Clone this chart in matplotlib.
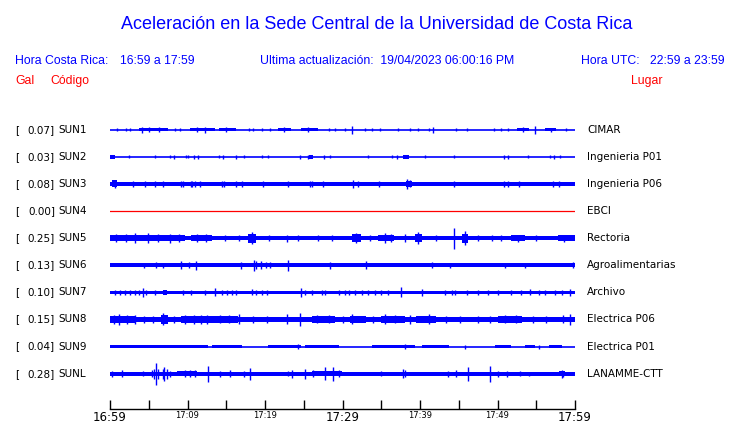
import matplotlib
matplotlib.use('Agg')
import matplotlib.pyplot as plt

# Estaciones, picos (gal) y lugares
stations = ['SUN1', 'SUN2', 'SUN3', 'SUN4', 'SUN5', 'SUN6', 'SUN7', 'SUN8', 'SUN9', 'SUNL']
peaks = [0.07, 0.03, 0.08, 0.00, 0.25, 0.13, 0.10, 0.15, 0.04, 0.28]
places = ['CIMAR', 'Ingenieria P01', 'Ingenieria P06', 'EBCI', 'Rectoria',
          'Agroalimentarias', 'Archivo', 'Electrica P06', 'Electrica P01', 'LANAMME-CTT']

# nivel de ruido base de cada traza (unidades arbitrarias)
noise_floor = [0.6, 0.6, 2.0, 0.0, 2.3, 2.0, 1.5, 2.5, 0.7, 2.0]

# tramos de ruido elevado: (minuto inicio, minuto fin, amplitud)
bands = {
    'SUN1': [(3.7, 7.5, 1.7), (10.3, 13.5, 1.7), (14.0, 16.3, 1.6), (21.7, 23.4, 1.6),
             (24.7, 26.9, 1.6), (52.5, 54.0, 1.6), (56.1, 57.6, 1.5)],
    'SUN2': [(0.0, 0.7, 2.0), (25.7, 26.2, 2.2), (37.8, 38.6, 2.2)],
    'SUN3': [(0.2, 0.9, 3.5), (38.2, 39.0, 3.0)],
    'SUN4': [],
    'SUN5': [(0.0, 9.7, 3.2), (10.5, 13.1, 3.0), (17.8, 18.8, 4.5), (31.2, 32.4, 3.8),
             (34.6, 36.6, 3.3), (39.3, 40.3, 4.3), (45.4, 46.2, 4.5), (51.8, 53.6, 2.8),
             (57.8, 60.0, 2.8)],
    'SUN6': [],
    'SUN7': [(6.8, 7.4, 2.3)],
    'SUN8': [(0.0, 3.2, 3.8), (6.6, 7.5, 4.8), (9.2, 13.1, 3.6), (13.1, 16.5, 3.1),
             (26.0, 29.0, 3.1), (31.0, 33.0, 3.1), (35.0, 38.0, 3.1), (39.5, 42.0, 3.1),
             (50.0, 53.2, 3.1), (57.5, 60.0, 2.9)],
    'SUN9': [(0.0, 12.7, 1.3), (13.1, 17.0, 1.3), (20.4, 24.7, 1.3), (25.2, 29.5, 1.3),
             (33.8, 39.4, 1.3), (40.2, 43.7, 1.3), (49.7, 51.8, 1.3), (53.5, 54.8, 1.3),
             (56.6, 58.3, 1.3)],
    'SUNL': [(8.6, 11.2, 2.7), (26.0, 29.9, 2.7), (57.9, 58.7, 2.8)],
}

# picos individuales: (minuto, amplitud)
spikes = {
    'SUN1': [(0.9, 1.8), (2.0, 1.8), (2.6, 1.8), (4.1, 3.0), (5.0, 2.2), (6.3, 2.2),
             (8.4, 1.8), (9.0, 1.8), (11.2, 2.2), (12.3, 3.0), (15.0, 2.2), (17.9, 1.6),
             (18.5, 1.6), (19.6, 1.8), (20.6, 1.6), (22.5, 2.2), (25.5, 2.2), (28.2, 1.8),
             (29.0, 1.6), (30.3, 1.8), (31.2, 4.0), (32.9, 1.8), (33.8, 1.8), (34.8, 1.6),
             (37.2, 1.6), (38.7, 1.8), (39.8, 1.6), (41.1, 1.8), (41.7, 3.0), (44.7, 1.8),
             (46.0, 1.6), (49.5, 1.6), (50.5, 1.6), (51.4, 1.8), (53.3, 2.2), (54.8, 4.0),
             (56.9, 2.0), (58.9, 1.6)],
    'SUN2': [(2.4, 1.6), (5.8, 1.6), (7.7, 1.6), (8.3, 1.8), (9.8, 1.6), (10.0, 1.6),
             (10.9, 2.0), (11.4, 1.8), (14.0, 1.6), (14.6, 1.8), (16.3, 2.0), (17.3, 1.6),
             (19.6, 1.6), (20.4, 1.6), (24.5, 1.8), (25.6, 1.8), (27.6, 2.0), (28.4, 1.6),
             (33.3, 1.6), (36.4, 1.6), (37.0, 1.8), (40.6, 1.6), (44.4, 1.6), (50.9, 2.0),
             (51.3, 2.0), (53.9, 1.6), (56.8, 1.6), (57.3, 2.0), (58.1, 1.6)],
    'SUN3': [(0.6, 4.0), (3.0, 3.0), (4.5, 3.0), (5.8, 3.2), (6.8, 3.0), (9.2, 3.0),
             (9.4, 3.0), (10.4, 3.2), (10.6, 3.2), (11.0, 3.0), (11.6, 3.0), (14.5, 3.2),
             (14.7, 3.2), (16.3, 3.0), (17.0, 3.0), (19.7, 3.0), (23.0, 2.8), (25.8, 3.2),
             (26.1, 3.2), (27.5, 3.0), (31.3, 3.8), (32.0, 3.0), (34.7, 3.0), (38.3, 5.0),
             (38.7, 3.5), (44.4, 3.2), (50.9, 3.0), (51.4, 3.0), (52.8, 3.0), (57.2, 3.2),
             (57.9, 3.2)],
    'SUN4': [],
    'SUN5': [(0.8, 4.0), (2.1, 4.2), (3.2, 5.0), (4.9, 5.2), (6.2, 4.0), (7.8, 4.5),
             (8.9, 3.8), (11.2, 4.0), (12.4, 4.0), (14.8, 3.0), (16.6, 3.2), (18.3, 6.0),
             (20.5, 3.0), (22.8, 3.6), (24.3, 3.0), (26.9, 3.2), (28.6, 3.2), (31.8, 5.0),
             (33.5, 3.0), (35.5, 4.8), (36.2, 4.0), (38.1, 4.0), (39.8, 6.0), (42.0, 3.0),
             (44.4, 10.5), (45.8, 7.0), (47.5, 3.0), (49.3, 3.2), (50.5, 3.0), (52.6, 3.6),
             (55.0, 3.0), (58.6, 3.4)],
    'SUN6': [(4.4, 2.5), (5.9, 3.0), (6.9, 2.5), (9.2, 4.0), (10.2, 3.0), (11.1, 4.5),
             (16.9, 3.5), (18.6, 5.3), (18.9, 4.0), (19.5, 4.0), (20.1, 3.0), (20.7, 3.0),
             (23.0, 5.7), (28.4, 3.5), (33.0, 4.0), (41.5, 3.0), (43.9, 2.5), (51.0, 2.5),
             (53.6, 2.5), (59.8, 3.0)],
    'SUN7': [(0.6, 2.5), (1.3, 2.5), (1.9, 2.5), (2.6, 2.5), (3.2, 2.5), (3.8, 2.8),
             (4.2, 4.5), (4.7, 2.5), (5.8, 2.5), (9.4, 2.5), (10.5, 2.5), (12.3, 2.5),
             (13.6, 4.0), (14.4, 2.5), (15.1, 2.5), (15.7, 2.5), (16.3, 2.5), (18.3, 3.0),
             (18.9, 2.5), (19.6, 2.5), (20.2, 2.5), (24.7, 4.5), (25.2, 2.5), (26.0, 2.5),
             (27.3, 2.5), (27.7, 2.5), (29.5, 2.5), (30.3, 2.5), (30.8, 2.5), (31.6, 2.5),
             (32.5, 2.5), (33.3, 2.5), (34.2, 2.5), (35.0, 2.5), (35.9, 2.5), (37.5, 5.0),
             (40.2, 3.5), (43.2, 2.5), (44.1, 2.5), (44.5, 2.5), (46.0, 2.5), (47.5, 2.5),
             (48.8, 2.5), (50.1, 2.5), (51.8, 2.5), (53.0, 2.5), (54.2, 3.0), (55.3, 2.5),
             (56.1, 2.5), (57.4, 2.5), (58.3, 2.5), (59.3, 3.5)],
    'SUN8': [(0.5, 4.5), (1.1, 5.5), (2.2, 4.5), (3.2, 4.5), (4.4, 3.5), (5.5, 3.5),
             (6.9, 6.0), (8.3, 3.8), (9.7, 4.5), (10.9, 4.3), (11.7, 4.3), (12.5, 4.5),
             (14.2, 4.0), (15.4, 4.0), (16.6, 5.0), (18.5, 3.5), (20.3, 3.5), (22.8, 5.0),
             (24.5, 6.5), (26.7, 4.0), (28.3, 4.0), (30.0, 3.5), (31.2, 5.0), (33.9, 3.5),
             (35.5, 5.0), (36.8, 4.0), (38.7, 4.5), (41.1, 5.0), (43.3, 3.5), (45.2, 3.5),
             (47.5, 3.5), (49.0, 3.5), (51.0, 4.0), (52.4, 4.0), (54.6, 3.5), (56.3, 3.5),
             (58.5, 4.0), (59.3, 5.5)],
    'SUN9': [(24.3, 2.5), (38.1, 2.5), (45.8, 2.0), (55.3, 2.0)],
    'SUNL': [(0.2, 3.0), (1.5, 3.5), (4.2, 2.5), (5.4, 3.5), (5.7, 5.0), (5.9, 11.0),
             (6.2, 5.0), (6.8, 5.0), (7.0, 7.0), (7.4, 5.0), (7.7, 3.0), (9.7, 3.5),
             (10.3, 3.5), (11.0, 3.5), (12.7, 8.0), (14.2, 3.0), (15.5, 3.5), (17.3, 3.0),
             (18.1, 6.0), (23.0, 2.5), (23.5, 4.0), (25.1, 5.0), (26.2, 3.5), (27.7, 6.5),
             (28.8, 7.0), (29.5, 3.5), (35.0, 2.5), (37.8, 4.5), (38.1, 3.5), (43.6, 3.0),
             (44.7, 3.5), (46.2, 7.0), (49.0, 8.0), (50.1, 3.0), (51.2, 3.0), (52.9, 2.5),
             (54.0, 2.0), (58.3, 4.0), (58.5, 3.0)],
}

tick_minutes = list(range(0, 61, 5))
tick_labels = ['16:59', '', '17:09', '', '17:19', '', '17:29', '', '17:39', '', '17:49', '', '17:59']
big_ticks = ['16:59', '17:29', '17:59']

W, H = 740, 423
BLUE = '#0000ff'
RED = '#ff0000'


def fx(x):
    return x / W


def fy(y):
    return 1 - y / H


fig = plt.figure(figsize=(W / 100, H / 100), dpi=100)

# Encabezado
hfont = 'Liberation Sans'
fig.text(fx(377), fy(29), 'Aceleración en la Sede Central de la Universidad de Costa Rica',
         ha='center', va='baseline', color=BLUE, fontsize=13, family=hfont)
fig.text(fx(15), fy(64), 'Hora Costa Rica:', ha='left', va='baseline', color=BLUE, fontsize=8.8, family=hfont)
fig.text(fx(120), fy(64), '16:59 a 17:59', ha='left', va='baseline', color=BLUE, fontsize=8.8, family=hfont)
fig.text(fx(260), fy(64), 'Ultima actualización:  19/04/2023 06:00:16 PM', ha='left', va='baseline',
         color=BLUE, fontsize=8.8, family=hfont)
fig.text(fx(581), fy(64), 'Hora UTC:', ha='left', va='baseline', color=BLUE, fontsize=8.8, family=hfont)
fig.text(fx(725), fy(64), '22:59 a 23:59', ha='right', va='baseline', color=BLUE, fontsize=8.8, family=hfont)
fig.text(fx(15), fy(84), 'Gal', ha='left', va='baseline', color=RED, fontsize=8.8, family=hfont)
fig.text(fx(50), fy(84), 'Código', ha='left', va='baseline', color=RED, fontsize=8.8, family=hfont)
fig.text(fx(631), fy(84), 'Lugar', ha='left', va='baseline', color=RED, fontsize=8.8, family=hfont)

# Trazas
top_px, bot_px = 115, 388
ax = fig.add_axes([fx(110), fy(bot_px), (575 - 110) / W, (bot_px - top_px) / H])
ax.set_xlim(0, 60)
ax.set_ylim(bot_px - top_px, 0)
ax.axis('off')

spacing = 27.1
for i, st in enumerate(stations):
    c = 14.7 + spacing * i
    ypx = top_px + c
    if st == 'SUN4':
        ax.plot([0, 60], [c, c], color=RED, lw=0.9)
    else:
        base = noise_floor[i]
        if base < 1:
            ax.plot([0, 60], [c, c], color=BLUE, lw=1.2)
        else:
            ax.fill_between([0, 60], c - base, c + base, color=BLUE, lw=0)
        for t0, t1, a in bands[st]:
            ax.fill_between([t0, t1], c - a, c + a, color=BLUE, lw=0)
        if spikes[st]:
            ts = [s[0] for s in spikes[st]]
            amps = [s[1] for s in spikes[st]]
            ax.vlines(ts, [c - a for a in amps], [c + a for a in amps], color=BLUE, lw=1.0)

    fig.text(fx(15), fy(ypx), '[', ha='left', va='center', fontsize=7.5, color='black')
    fig.text(fx(55), fy(ypx), '%.2f]' % peaks[i], ha='right', va='center', fontsize=7.5, color='black')
    fig.text(fx(58), fy(ypx), st, ha='left', va='center', fontsize=7.5, color='black')
    fig.text(fx(587), fy(ypx), places[i], ha='left', va='center', fontsize=7.5, color='black')

# Eje de tiempo
axt = fig.add_axes([fx(110), fy(409), (575 - 110) / W, 0.0001])
axt.set_xlim(0, 60)
axt.set_yticks([])
for s in ['left', 'right', 'top']:
    axt.spines[s].set_visible(False)
axt.spines['bottom'].set_linewidth(1.0)
axt.set_xticks(tick_minutes)
axt.set_xticklabels(tick_labels)
axt.tick_params(axis='x', direction='in', length=6.5, width=1.0, pad=1.5)
for lab in axt.get_xticklabels():
    if lab.get_text() in big_ticks:
        lab.set_fontsize(8.5)
    else:
        lab.set_fontsize(6)

fig.savefig('out.png', dpi=100)
